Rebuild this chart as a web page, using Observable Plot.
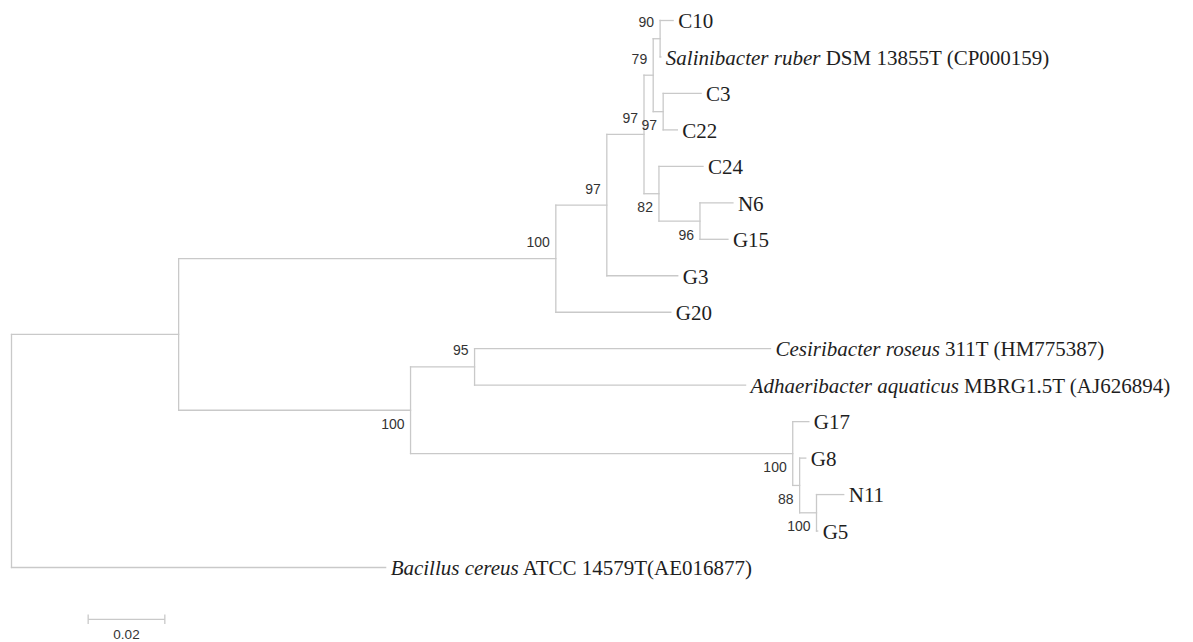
<!DOCTYPE html>
<html>
<head>
<meta charset="utf-8">
<script src="https://cdn.jsdelivr.net/npm/d3@7"></script>
<script src="https://cdn.jsdelivr.net/npm/@observablehq/plot@0.6"></script>
<style>
  html, body { margin: 0; padding: 0; background: #fff; }
</style>
</head>
<body>
<div id="chart"></div>
<script>
// ---- Tree data (nodes listed with parent and branch length; children order = listing order) ----
const nodeIds = ["R","A","Bacillus","B","L","C","G20","D","G3","E","F","H","I","C10","Sal","C3","C22","C24","J","N6","G15","M","Ces","Adh","N","G17","O","G8","P","N11","G5"];
const nodeParents = [null,"R","R","A","A","B","B","C","C","D","D","E","E","H","H","I","I","F","F","J","J","L","M","M","L","N","N","O","O","P","P"];
const branchLengths = [0,0.0436,0.0976,0.0984,0.0605,0.0133,0.0300,0.0097,0.0185,0.0024,0.0039,0.0018,0.0026,0.0034,0.0002,0.0099,0.0037,0.0115,0.0107,0.0086,0.0073,0.0167,0.0772,0.0707,0.0997,0.0042,0.0018,0.0016,0.0044,0.0071,0.0003];

// ---- Leaf labels ----
const leafIds = ["C10","Sal","C3","C22","C24","N6","G15","G3","G20","Ces","Adh","G17","G8","N11","G5","Bacillus"];
const leafLabels = ["C10","Salinibacter ruber DSM 13855T (CP000159)","C3","C22","C24","N6","G15","G3","G20","Cesiribacter roseus 311T (HM775387)","Adhaeribacter aquaticus MBRG1.5T (AJ626894)","G17","G8","N11","G5","Bacillus cereus ATCC 14579T(AE016877)"];
const italicParts = ["","Salinibacter ruber","","","","","","","","Cesiribacter roseus","Adhaeribacter aquaticus","","","","","Bacillus cereus"];

// ---- Bootstrap support ----
const bootstrapNodes = ["B","C","D","E","F","H","I","J","L","M","N","O","P"];
const bootstrapValues = [100,97,97,79,82,90,97,96,100,95,100,88,100];

// ---- Scale bar ----
const scaleBarLength = 0.02;
const scaleBarLabel = "0.02";

// ---- Layout computation ----
const nodes = new Map();
nodeIds.forEach((id, i) => nodes.set(id, {id, parent: nodeParents[i], len: branchLengths[i], children: []}));
for (const n of nodes.values()) if (n.parent) nodes.get(n.parent).children.push(n);
const root = nodes.get("R");
let leafCounter = 0;
(function layout(n, depth) {
  n.x = depth + n.len;
  if (n.children.length === 0) { n.y = leafCounter++; return; }
  n.children.forEach(c => layout(c, n.x));
  n.y = (n.children[0].y + n.children[n.children.length - 1].y) / 2;
})(root, 0);

const segments = [];
for (const n of nodes.values()) {
  if (n.parent) { const p = nodes.get(n.parent); segments.push({x1: p.x, y1: n.y, x2: n.x, y2: n.y}); }
  if (n.children.length) {
    segments.push({x1: n.x, y1: n.children[0].y, x2: n.x, y2: n.children[n.children.length - 1].y});
  }
}
const leaves = leafIds.map((id, i) => ({...nodes.get(id), label: leafLabels[i], italic: italicParts[i]}));
const boots = bootstrapNodes.map((id, i) => {
  const n = nodes.get(id); const p = nodes.get(n.parent);
  return {x: n.x, y: n.y, value: String(bootstrapValues[i]), above: p.children[0] === n};
});
const nLeaves = leafCounter;
const barY = nLeaves - 1 + 1.42;

const lineColor = "#c9c9c9";
const chart = Plot.plot({
  width: 1193,
  height: 642,
  marginLeft: 11,
  marginRight: 32,
  marginTop: 20,
  marginBottom: 75,
  x: {domain: [0, 0.3], axis: null},
  y: {domain: [0, nLeaves - 1], reverse: true, axis: null},
  style: {background: "#fff"},
  marks: [
    Plot.link(segments, {x1: "x1", y1: "y1", x2: "x2", y2: "y2", stroke: lineColor, strokeWidth: 1.3, strokeLinecap: "square"}),
    Plot.text(leaves, {x: "x", y: "y", text: "label", textAnchor: "start", dx: 5, dy: 1, fontSize: 21, fontFamily: "Liberation Serif, Times New Roman, serif", fill: "#1e1e1e"}),
    Plot.text(boots.filter(d => d.above), {x: "x", y: "y", text: "value", textAnchor: "end", dx: -6, dy: -16, fontSize: 14, fontFamily: "Liberation Sans, Arial, sans-serif", fill: "#333"}),
    Plot.text(boots.filter(d => !d.above), {x: "x", y: "y", text: "value", textAnchor: "end", dx: -6, dy: 14, fontSize: 14, fontFamily: "Liberation Sans, Arial, sans-serif", fill: "#333"}),
    // scale bar
    Plot.link([{x1: scaleBarLength, x2: 2 * scaleBarLength, y1: barY, y2: barY}], {x1: "x1", x2: "x2", y1: "y1", y2: "y2", stroke: lineColor, strokeWidth: 1.3}),
    Plot.link([scaleBarLength, 2 * scaleBarLength], {x1: d => d, x2: d => d, y1: barY - 0.13, y2: barY + 0.13, stroke: lineColor, strokeWidth: 1.3}),
    Plot.text([scaleBarLabel], {x: 1.5 * scaleBarLength, y: barY, text: d => d, dy: 15, fontSize: 13.5, fontFamily: "Liberation Sans, Arial, sans-serif", fill: "#333"})
  ]
});

// Italicize genus/species part of leaf labels
const SVGNS = "http://www.w3.org/2000/svg";
chart.querySelectorAll("text").forEach(t => {
  const full = t.textContent;
  const i = leafLabels.indexOf(full);
  if (i >= 0 && italicParts[i]) {
    const it = italicParts[i];
    while (t.firstChild) t.removeChild(t.firstChild);
    const a = document.createElementNS(SVGNS, "tspan");
    a.setAttribute("font-style", "italic");
    a.style.fontStyle = "italic";
    a.textContent = it;
    const b = document.createElementNS(SVGNS, "tspan");
    b.textContent = full.slice(it.length);
    t.appendChild(a); t.appendChild(b);
  }
});

document.getElementById("chart").appendChild(chart);
</script>
</body>
</html>
